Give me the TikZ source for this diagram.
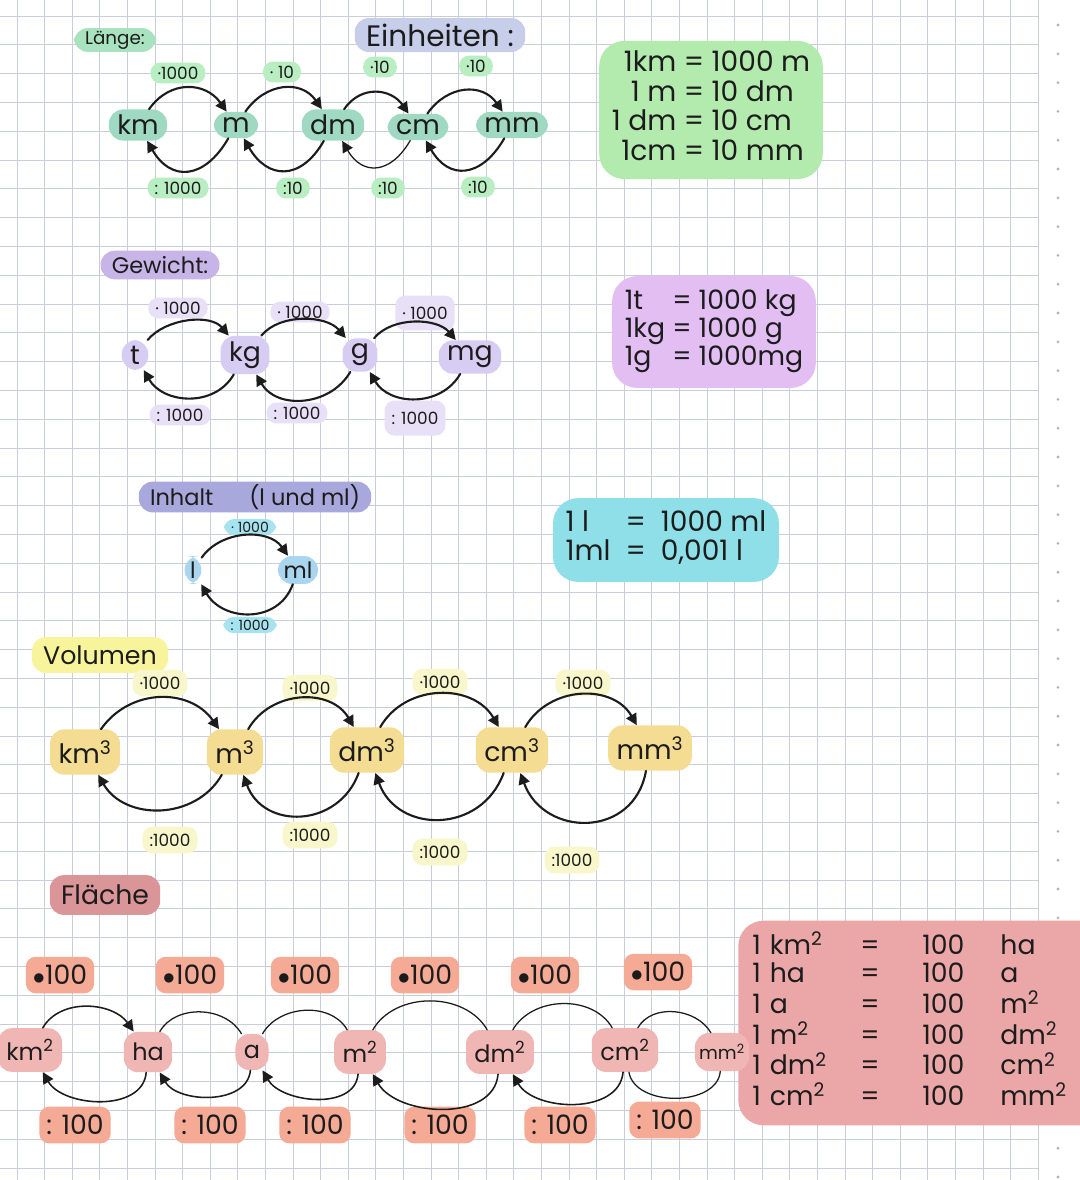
\documentclass[tikz,border=0pt]{standalone}
\usepackage{fontspec}
\setmainfont{Poppins}
\usetikzlibrary{arrows.meta}

\definecolor{ink}{HTML}{1C1C1C}
\definecolor{gridLine}{HTML}{C9CCDA}
\definecolor{gridDot}{HTML}{B4B4B4}
\definecolor{lenTitle}{HTML}{A9E2BF}
\definecolor{unitTitle}{HTML}{C7CEEA}
\definecolor{lenNode}{HTML}{9FD9C2}
\definecolor{lenOp}{HTML}{B9EDC2}
\definecolor{lenBox}{HTML}{B3EBAE}
\definecolor{wgtTitle}{HTML}{C7B5E8}
\definecolor{wgtNode}{HTML}{D7CDF2}
\definecolor{wgtOp}{HTML}{E8E0F6}
\definecolor{wgtBox}{HTML}{E2BEF3}
\definecolor{capTitle}{HTML}{A9A8DD}
\definecolor{capNode}{HTML}{A9D6EE}
\definecolor{capOp}{HTML}{A6E3EE}
\definecolor{capBox}{HTML}{8FDFE8}
\definecolor{volTitle}{HTML}{F7F49C}
\definecolor{volNode}{HTML}{F4DC92}
\definecolor{volOp}{HTML}{F8F7CB}
\definecolor{areaTitle}{HTML}{DA9599}
\definecolor{areaNode}{HTML}{EFB6B4}
\definecolor{areaOp}{HTML}{F4AA95}
\definecolor{areaBox}{HTML}{EBA7A8}

\tikzset{
  unitbox/.style={fill=#1, text=ink, rounded corners=10pt, inner xsep=6pt, inner ysep=4pt,
    font=\fontsize{19}{22}\selectfont},
  opbox/.style={fill=#1, text=ink, rounded corners=7pt, inner xsep=5pt, inner ysep=3pt,
    font=\fontsize{12}{14}\selectfont},
  titlebox/.style={fill=#1, text=ink, rounded corners=10pt, inner xsep=8pt, inner ysep=4pt,
    font=\fontsize{16}{18}\selectfont},
  eqbox/.style={fill=#1, text=ink, rounded corners=18pt, inner xsep=9pt, inner ysep=7pt},
  convarrow/.style={draw=ink, line width=1.5pt, -{Triangle[length=8pt,width=8pt]}},
  plainarc/.style={draw=ink, line width=0.9pt},
}

\begin{document}
\begin{tikzpicture}[x=0.025cm, y=-0.025cm, line cap=round, line join=round]
% page in screen pixels, y grows downwards
\useasboundingbox (0,0) rectangle (1080,1180);
\begin{scope}
\clip (0,0) rectangle (1080,1180);
% Background
\fill[white] (0,0) rectangle (1080,1180);
% Grid paper
\foreach \i in {0,...,37} \draw[gridLine, line width=0.6pt] ({17+27.6*\i},0) -- ({17+27.6*\i},1180);
\foreach \j in {0,...,40} \draw[gridLine, line width=0.6pt] (0,{16+28.8*\j}) -- (1038,{16+28.8*\j});
\foreach \j in {0,...,40} \fill[gridDot] (1058,{25+28.8*\j}) circle (1.1pt);

% Laenge
\node[titlebox=lenTitle, font=\fontsize{13}{15}\selectfont, inner ysep=2pt] (laenge) at (115,40) {Länge:};
\node[titlebox=unitTitle, font=\fontsize{21}{24}\selectfont] (einheiten) at (440,35) {Einheiten :};
\node[unitbox=lenNode] (km) at (138,125) {km};
\node[unitbox=lenNode] (m) at (236,125) {m};
\node[unitbox=lenNode] (dm) at (333,125) {dm};
\node[unitbox=lenNode] (cm) at (418,127) {cm};
\node[unitbox=lenNode] (mm) at (512,125) {mm};
\node[opbox=lenOp] (kmMul) at (178,73) {·1000};
\node[opbox=lenOp] (mMul) at (282,72) {· 10};
\node[opbox=lenOp] (dmMul) at (380,67) {·10};
\node[opbox=lenOp] (cmMul) at (476,66) {·10};
\node[opbox=lenOp] (mDiv) at (178,188) {: 1000};
\node[opbox=lenOp] (dmDiv) at (293,188) {:10};
\node[opbox=lenOp] (cmDiv) at (388,188) {:10};
\node[opbox=lenOp] (mmDiv) at (478,187) {:10};
\draw[convarrow] (km) to[out=55,in=125,looseness=1.2] (m);
\draw[convarrow] (m) to[out=55,in=125,looseness=1.2] (dm);
\draw[convarrow] (dm) to[out=55,in=125,looseness=1.2] (cm);
\draw[convarrow] (cm) to[out=55,in=125,looseness=1.2] (mm);
\draw[convarrow] (m) to[out=-120,in=-60,looseness=1.5] (km);
\draw[convarrow] (dm) to[out=-120,in=-60,looseness=1.5] (m);
\draw[convarrow, line width=0.9pt] (cm) to[out=-120,in=-60,looseness=1.5] (dm);
\draw[convarrow] (mm) to[out=-120,in=-60,looseness=1.5] (cm);
\node[eqbox=lenBox, font=\fontsize{20}{21}\selectfont] (lenEq) at (711,110)
  {\begin{tabular}{@{}r@{\ }c@{\ }l@{}}1km & = & 1000 m\\ 1 m & = & 10 dm\\ 1 dm & = & 10 cm\\ 1cm & = & 10 mm\end{tabular}};

% Gewicht
\node[titlebox=wgtTitle] (gewicht) at (160,265) {Gewicht:};
\node[unitbox=wgtNode] (t) at (135,355) {t};
\node[unitbox=wgtNode] (kg) at (245,355) {kg};
\node[unitbox=wgtNode] (g) at (360,355) {g};
\node[unitbox=wgtNode] (mg) at (470,357) {mg};
\node[opbox=wgtOp] (tMul) at (178,308) {· 1000};
\node[opbox=wgtOp] (kgMul) at (300,312) {· 1000};
\node[opbox=wgtOp, inner ysep=8pt] (gMul) at (425,313) {· 1000};
\node[opbox=wgtOp] (kgDiv) at (180,415) {: 1000};
\node[opbox=wgtOp] (gDiv) at (297,413) {: 1000};
\node[opbox=wgtOp, inner ysep=8pt] (mgDiv) at (415,418) {: 1000};
\draw[convarrow] (t) to[out=50,in=130,looseness=0.9] (kg);
\draw[convarrow] (kg) to[out=50,in=130,looseness=0.9] (g);
\draw[convarrow] (g) to[out=50,in=130,looseness=0.9] (mg);
\draw[convarrow] (kg) to[out=-120,in=-60,looseness=1.1] (t);
\draw[convarrow] (g) to[out=-120,in=-60,looseness=1.1] (kg);
\draw[convarrow] (mg) to[out=-120,in=-60,looseness=1.1] (g);
\node[eqbox=wgtBox, font=\fontsize{19}{19.5}\selectfont, inner ysep=10pt] (wgtEq) at (714,332)
  {\begin{tabular}{@{}l@{\ }c@{\ }l@{}}1t & = & 1000 kg\\ 1kg & = & 1000 g\\ 1g & = & 1000mg\end{tabular}};

% Inhalt
\node[titlebox=capTitle, inner ysep=2pt] (inhalt) at (255,497) {Inhalt\hspace{1.6em}(l und ml)};
\node[unitbox=capNode, font=\fontsize{16}{18}\selectfont, inner xsep=4pt] (l) at (193,570) {l};
\node[unitbox=capNode, font=\fontsize{16}{18}\selectfont, inner xsep=4pt] (ml) at (298,570) {ml};
\node[opbox=capOp, font=\fontsize{10}{12}\selectfont, inner ysep=2pt] (lMul) at (250,527) {· 1000};
\node[opbox=capOp, font=\fontsize{10}{12}\selectfont, inner ysep=2pt] (mlDiv) at (250,625) {: 1000};
\draw[convarrow] (l) to[out=55,in=125,looseness=1.0] (ml);
\draw[convarrow] (ml) to[out=-110,in=-60,looseness=1.2] (l);
\node[eqbox=capBox, font=\fontsize{20}{20}\selectfont, inner ysep=9pt] (capEq) at (666,540)
  {\begin{tabular}{@{}l@{\ \ }c@{\ \ }l@{}}1 l & = & 1000 ml\\ 1ml & = & 0,001 l\end{tabular}};

% Volumen
\node[titlebox=volTitle, font=\fontsize{18}{20}\selectfont, inner ysep=6pt] (volumen) at (100,655) {Volumen};
\node[unitbox=volNode, inner ysep=8pt] (kmc) at (85,752) {km\textsuperscript{3}};
\node[unitbox=volNode, inner ysep=8pt] (mc) at (235,752) {m\textsuperscript{3}};
\node[unitbox=volNode, inner ysep=8pt] (dmc) at (367,750) {dm\textsuperscript{3}};
\node[unitbox=volNode, inner ysep=8pt] (cmc) at (512,750) {cm\textsuperscript{3}};
\node[unitbox=volNode, inner ysep=8pt] (mmc) at (650,748) {mm\textsuperscript{3}};
\node[opbox=volOp, inner ysep=5pt] (kmcMul) at (160,683) {·1000};
\node[opbox=volOp, inner ysep=5pt] (mcMul) at (310,688) {·1000};
\node[opbox=volOp, inner ysep=5pt] (dmcMul) at (440,682) {·1000};
\node[opbox=volOp, inner ysep=5pt] (cmcMul) at (583,683) {·1000};
\node[opbox=volOp, inner ysep=5pt] (mcDiv) at (170,840) {:1000};
\node[opbox=volOp, inner ysep=5pt] (dmcDiv) at (310,835) {:1000};
\node[opbox=volOp, inner ysep=5pt] (cmcDiv) at (440,852) {:1000};
\node[opbox=volOp, inner ysep=5pt] (mmcDiv) at (572,860) {:1000};
\draw[convarrow] (kmc) to[out=55,in=125,looseness=1.1] (mc);
\draw[convarrow] (mc) to[out=60,in=120,looseness=1.1] (dmc);
\draw[convarrow] (dmc) to[out=60,in=120,looseness=1.1] (cmc);
\draw[convarrow] (cmc) to[out=60,in=120,looseness=1.1] (mmc);
\draw[convarrow] (mc) to[out=-120,in=-60,looseness=1.1] (kmc);
\draw[convarrow] (dmc) to[out=-110,in=-70,looseness=1.3] (mc);
\draw[convarrow] (cmc) to[out=-110,in=-70,looseness=1.3] (dmc);
\draw[convarrow] (mmc) to[out=-100,in=-70,looseness=1.4] (cmc);

% Flaeche
\node[eqbox=areaBox, font=\fontsize{19}{19.5}\selectfont, anchor=west, inner xsep=10pt, inner ysep=8pt,
  text width=8.6cm, align=left] (areaEq) at (738,1023)
  {\begin{tabular}{@{}p{2.7cm}@{}p{1.55cm}@{}p{1.95cm}@{}l@{}}
   1 km\textsuperscript{2} & = & 100 & ha\\ 1 ha & = & 100 & a\\ 1 a & = & 100 & m\textsuperscript{2}\\
   1 m\textsuperscript{2} & = & 100 & dm\textsuperscript{2}\\ 1 dm\textsuperscript{2} & = & 100 & cm\textsuperscript{2}\\
   1 cm\textsuperscript{2} & = & 100 & mm\textsuperscript{2}\end{tabular}};
\node[titlebox=areaTitle, font=\fontsize{19}{21}\selectfont, inner ysep=7pt] (flaeche) at (105,895) {Fläche};
\node[unitbox=areaNode, font=\fontsize{17}{20}\selectfont, inner ysep=8pt] (kmq) at (30,1050) {km\textsuperscript{2}};
\node[unitbox=areaNode, font=\fontsize{17}{20}\selectfont, inner ysep=8pt] (ha) at (148,1052) {ha};
\node[unitbox=areaNode, font=\fontsize{17}{20}\selectfont, inner ysep=8pt] (a) at (252,1052) {a};
\node[unitbox=areaNode, font=\fontsize{17}{20}\selectfont, inner ysep=8pt] (mq) at (360,1052) {m\textsuperscript{2}};
\node[unitbox=areaNode, font=\fontsize{17}{20}\selectfont, inner ysep=8pt] (dmq) at (500,1052) {dm\textsuperscript{2}};
\node[unitbox=areaNode, font=\fontsize{17}{20}\selectfont, inner ysep=8pt] (cmq) at (625,1050) {cm\textsuperscript{2}};
\node[unitbox=areaNode, font=\fontsize{13}{15}\selectfont, inner ysep=8pt, inner xsep=3pt] (mmq) at (722,1052) {mm\textsuperscript{2}};
\node[opbox=areaOp, font=\fontsize{19}{21}\selectfont, inner ysep=6pt] (kmqMul) at (60,975) {$\bullet$100};
\node[opbox=areaOp, font=\fontsize{19}{21}\selectfont, inner ysep=6pt] (haMul) at (190,975) {$\bullet$100};
\node[opbox=areaOp, font=\fontsize{19}{21}\selectfont, inner ysep=6pt] (aMul) at (305,975) {$\bullet$100};
\node[opbox=areaOp, font=\fontsize{19}{21}\selectfont, inner ysep=6pt] (mqMul) at (425,975) {$\bullet$100};
\node[opbox=areaOp, font=\fontsize{19}{21}\selectfont, inner ysep=6pt] (dmqMul) at (545,975) {$\bullet$100};
\node[opbox=areaOp, font=\fontsize{19}{21}\selectfont, inner ysep=6pt] (cmqMul) at (658,972) {$\bullet$100};
\node[opbox=areaOp, font=\fontsize{19}{21}\selectfont, inner ysep=6pt] (haDiv) at (75,1125) {: 100};
\node[opbox=areaOp, font=\fontsize{19}{21}\selectfont, inner ysep=6pt] (aDiv) at (210,1125) {: 100};
\node[opbox=areaOp, font=\fontsize{19}{21}\selectfont, inner ysep=6pt] (mqDiv) at (315,1125) {: 100};
\node[opbox=areaOp, font=\fontsize{19}{21}\selectfont, inner ysep=6pt] (dmqDiv) at (440,1125) {: 100};
\node[opbox=areaOp, font=\fontsize{19}{21}\selectfont, inner ysep=6pt] (cmqDiv) at (560,1125) {: 100};
\node[opbox=areaOp, font=\fontsize{19}{21}\selectfont, inner ysep=6pt] (mmqDiv) at (665,1120) {: 100};
\draw[convarrow, line width=1.1pt] (kmq) to[out=60,in=125,looseness=1.0] (ha);
\draw[plainarc] (ha) to[out=60,in=120,looseness=1.0] (a);
\draw[plainarc] (a) to[out=60,in=120,looseness=1.0] (mq);
\draw[plainarc] (mq) to[out=60,in=120,looseness=1.0] (dmq);
\draw[plainarc] (dmq) to[out=60,in=120,looseness=1.0] (cmq);
\draw[plainarc] (cmq) to[out=60,in=120,looseness=1.0] (mmq);
\draw[convarrow, line width=1.1pt] (ha) to[out=-95,in=-60,looseness=1.0] (kmq);
\draw[convarrow, line width=1.1pt] (a) to[out=-95,in=-60,looseness=1.0] (ha);
\draw[convarrow, line width=1.1pt] (mq) to[out=-95,in=-60,looseness=1.0] (a);
\draw[convarrow, line width=1.1pt] (dmq) to[out=-95,in=-60,looseness=1.0] (mq);
\draw[convarrow, line width=1.1pt] (cmq) to[out=-95,in=-60,looseness=1.0] (dmq);
\draw[plainarc] (mmq) to[out=-95,in=-80,looseness=1.0] (cmq);
\end{scope}
\end{tikzpicture}
\end{document}
